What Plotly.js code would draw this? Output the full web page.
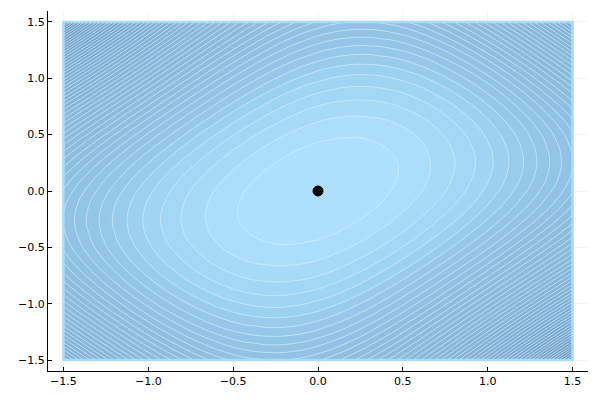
<!DOCTYPE html>
<html>
<head>
<meta charset="utf-8">
<script src="https://cdn.plot.ly/plotly-3.0.1.min.js"></script>
<style>
	html, body { margin: 0; padding: 0; background: #ffffff; }
	#plot-div { width: 600px; height: 400px; }
</style>
</head>
<body>
<div id="plot-div"></div>
<script>

// grid of the surface
const xVals = [-1.5, -1.35, -1.2, -1.05, -0.9, -0.75, -0.6, -0.45, -0.3, -0.15, 0.0, 0.15, 0.3, 0.45, 0.6, 0.75, 0.9, 1.05, 1.2, 1.35, 1.5];
const yVals = [-1.5, -1.35, -1.2, -1.05, -0.9, -0.75, -0.6, -0.45, -0.3, -0.15, 0.0, 0.15, 0.3, 0.45, 0.6, 0.75, 0.9, 1.05, 1.2, 1.35, 1.5];

// surface height, one row per y value (bottom row first)
const zValues = [
	[6.064, 5.161, 4.374, 3.703, 3.148, 2.708, 2.385, 2.177, 2.086, 2.110, 2.250, 2.506, 2.878, 3.365, 3.969, 4.688, 5.524, 6.475, 7.542, 8.725, 10.024],
	[5.161, 4.366, 3.674, 3.084, 2.597, 2.212, 1.929, 1.749, 1.671, 1.696, 1.823, 2.052, 2.384, 2.818, 3.355, 3.994, 4.735, 5.579, 6.525, 7.574, 8.725],
	[4.374, 3.674, 3.064, 2.545, 2.116, 1.778, 1.529, 1.371, 1.304, 1.327, 1.440, 1.644, 1.938, 2.322, 2.797, 3.362, 4.017, 4.763, 5.599, 6.525, 7.542],
	[3.703, 3.084, 2.545, 2.086, 1.706, 1.406, 1.186, 1.046, 0.985, 1.004, 1.103, 1.281, 1.539, 1.877, 2.295, 2.792, 3.369, 4.026, 4.763, 5.579, 6.475],
	[3.148, 2.597, 2.116, 1.706, 1.367, 1.097, 0.899, 0.771, 0.713, 0.727, 0.810, 0.964, 1.189, 1.484, 1.849, 2.285, 2.792, 3.369, 4.017, 4.735, 5.524],
	[2.708, 2.212, 1.778, 1.406, 1.097, 0.852, 0.668, 0.548, 0.490, 0.495, 0.563, 0.693, 0.886, 1.142, 1.460, 1.842, 2.285, 2.792, 3.362, 3.994, 4.688],
	[2.385, 1.929, 1.529, 1.186, 0.899, 0.668, 0.494, 0.376, 0.314, 0.309, 0.360, 0.467, 0.631, 0.851, 1.128, 1.460, 1.849, 2.295, 2.797, 3.355, 3.969],
	[2.177, 1.749, 1.371, 1.046, 0.771, 0.548, 0.376, 0.256, 0.187, 0.169, 0.203, 0.288, 0.424, 0.612, 0.851, 1.142, 1.484, 1.877, 2.322, 2.818, 3.365],
	[2.086, 1.671, 1.304, 0.985, 0.713, 0.490, 0.314, 0.187, 0.107, 0.074, 0.090, 0.154, 0.265, 0.424, 0.631, 0.886, 1.189, 1.539, 1.938, 2.384, 2.878],
	[2.110, 1.696, 1.327, 1.004, 0.727, 0.495, 0.309, 0.169, 0.074, 0.026, 0.023, 0.065, 0.154, 0.288, 0.467, 0.693, 0.964, 1.281, 1.644, 2.052, 2.506],
	[2.250, 1.823, 1.440, 1.103, 0.810, 0.563, 0.360, 0.203, 0.090, 0.023, 0.000, 0.023, 0.090, 0.203, 0.360, 0.563, 0.810, 1.103, 1.440, 1.823, 2.250],
	[2.506, 2.052, 1.644, 1.281, 0.964, 0.693, 0.467, 0.288, 0.154, 0.065, 0.023, 0.026, 0.074, 0.169, 0.309, 0.495, 0.727, 1.004, 1.327, 1.696, 2.110],
	[2.878, 2.384, 1.938, 1.539, 1.189, 0.886, 0.631, 0.424, 0.265, 0.154, 0.090, 0.074, 0.107, 0.187, 0.314, 0.490, 0.713, 0.985, 1.304, 1.671, 2.086],
	[3.365, 2.818, 2.322, 1.877, 1.484, 1.142, 0.851, 0.612, 0.424, 0.288, 0.203, 0.169, 0.187, 0.256, 0.376, 0.548, 0.771, 1.046, 1.371, 1.749, 2.177],
	[3.969, 3.355, 2.797, 2.295, 1.849, 1.460, 1.128, 0.851, 0.631, 0.467, 0.360, 0.309, 0.314, 0.376, 0.494, 0.668, 0.899, 1.186, 1.529, 1.929, 2.385],
	[4.688, 3.994, 3.362, 2.792, 2.285, 1.842, 1.460, 1.142, 0.886, 0.693, 0.563, 0.495, 0.490, 0.548, 0.668, 0.852, 1.097, 1.406, 1.778, 2.212, 2.708],
	[5.524, 4.735, 4.017, 3.369, 2.792, 2.285, 1.849, 1.484, 1.189, 0.964, 0.810, 0.727, 0.713, 0.771, 0.899, 1.097, 1.367, 1.706, 2.116, 2.597, 3.148],
	[6.475, 5.579, 4.763, 4.026, 3.369, 2.792, 2.295, 1.877, 1.539, 1.281, 1.103, 1.004, 0.985, 1.046, 1.186, 1.406, 1.706, 2.086, 2.545, 3.084, 3.703],
	[7.542, 6.525, 5.599, 4.763, 4.017, 3.362, 2.797, 2.322, 1.938, 1.644, 1.440, 1.327, 1.304, 1.371, 1.529, 1.778, 2.116, 2.545, 3.064, 3.674, 4.374],
	[8.725, 7.574, 6.525, 5.579, 4.735, 3.994, 3.355, 2.818, 2.384, 2.052, 1.823, 1.696, 1.671, 1.749, 1.929, 2.212, 2.597, 3.084, 3.674, 4.366, 5.161],
	[10.024, 8.725, 7.542, 6.475, 5.524, 4.688, 3.969, 3.365, 2.878, 2.506, 2.250, 2.110, 2.086, 2.177, 2.385, 2.708, 3.148, 3.703, 4.374, 5.161, 6.064],
];

// marked point
const pointX = [0.0];
const pointY = [0.0];

// ticks
const tickVals = [-1.5, -1.0, -0.5, 0.0, 0.5, 1.0, 1.5];

// contour level spacing
const levelStep = 0.19;
const levelMax = 10.1;

function drawPlot() {
	const container = document.getElementById("plot-div");

	const contourTrace = {
		type: "contour",
		x: xVals,
		y: yVals,
		z: zValues,
		zmin: 0,
		zmax: levelMax,
		autocontour: false,
		contours: {
			start: levelStep,
			end: levelMax,
			size: levelStep,
			coloring: "fill",
		},
		line: { color: "rgba(212,238,255,0.75)", width: 0.9, smoothing: 1.3 },
		colorscale: [
			[0.0, "#aee0fd"],
			[0.04, "#a6d8f6"],
			[0.12, "#97c8e9"],
			[0.25, "#8ebede"],
			[0.5, "#85b3d6"],
			[0.8, "#79a5cb"],
			[1.0, "#6a93bc"],
		],
		showscale: false,
		hoverinfo: "skip",
	};

	const pointTrace = {
		type: "scatter",
		mode: "markers",
		x: pointX,
		y: pointY,
		marker: { color: "#000000", size: 10, line: { color: "#000000", width: 1 } },
		showlegend: false,
	};

	// axis style shared by both axes
	const axisStyle = {
		tickvals: tickVals,
		tickformat: ".1f",
		ticks: "inside",
		ticklen: 4,
		tickcolor: "#000000",
		showline: true,
		linecolor: "#000000",
		linewidth: 1,
		mirror: false,
		showgrid: true,
		gridcolor: "rgba(0,0,0,0.08)",
		gridwidth: 0.5,
		zeroline: false,
		tickfont: { family: "DejaVu Sans", size: 11, color: "#000000" },
	};

	const layout = {
		width: 600,
		height: 400,
		margin: { l: 48, r: 12, t: 11, b: 29 },
		paper_bgcolor: "#ffffff",
		plot_bgcolor: "#ffffff",
		showlegend: false,
		xaxis: { ...axisStyle, range: [-1.591, 1.591] },
		yaxis: { ...axisStyle, range: [-1.597, 1.597] },
		// light border round the filled region
		shapes: [{
			type: "rect",
			xref: "x",
			yref: "y",
			x0: xVals[0],
			x1: xVals[xVals.length - 1],
			y0: yVals[0],
			y1: yVals[yVals.length - 1],
			line: { color: "#a9dcf8", width: 2.5 },
			layer: "above",
		}],
	};

	Plotly.newPlot(container, [contourTrace, pointTrace], layout, { displayModeBar: false, staticPlot: true });
}

drawPlot();
</script>
</body>
</html>
